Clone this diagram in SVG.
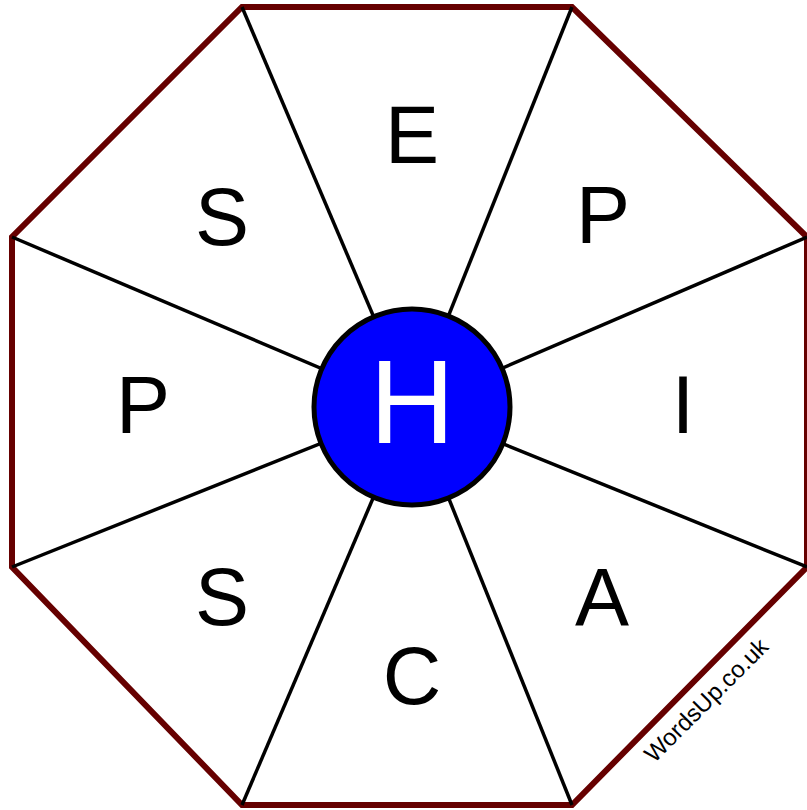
<svg xmlns="http://www.w3.org/2000/svg" width="807" height="810" viewBox="0 0 807 810">
<style>
.spoke{stroke:#000;stroke-width:3.5;fill:none}
.oct{stroke:#660000;stroke-width:6;fill:#fff;stroke-linejoin:miter}
.l{font-family:"Liberation Sans",Arial,sans-serif;font-size:81px;fill:#000;text-anchor:middle}
.c{font-family:"Liberation Sans",Arial,sans-serif;font-size:118px;fill:#fff;text-anchor:middle}
.w{font-family:"Liberation Sans",Arial,sans-serif;font-size:24px;fill:#000;text-anchor:middle}
</style>
<rect width="807" height="810" fill="#fff"/>
<polygon id="octagon" class="oct" points="242,7 572,7 807,237 807,567 572,805 242,805 12,567 12,237"/>
<g id="connectors">
<line class="spoke" x1="412" y1="407" x2="242" y2="7"/>
<line class="spoke" x1="412" y1="407" x2="572" y2="7"/>
<line class="spoke" x1="412" y1="407" x2="807" y2="237"/>
<line class="spoke" x1="412" y1="407" x2="807" y2="567"/>
<line class="spoke" x1="412" y1="407" x2="572" y2="805"/>
<line class="spoke" x1="412" y1="407" x2="242" y2="805"/>
<line class="spoke" x1="412" y1="407" x2="12" y2="567"/>
<line class="spoke" x1="412" y1="407" x2="12" y2="237"/>
</g>
<g id="n-E"><text class="l" x="412" y="163">E</text></g>
<g id="n-P1"><text class="l" x="603" y="243">P</text></g>
<g id="n-I"><text class="l" x="683" y="433">I</text></g>
<g id="n-A"><text class="l" x="602" y="625">A</text></g>
<g id="n-C"><text class="l" x="412" y="704">C</text></g>
<g id="n-S2"><text class="l" x="222" y="625">S</text></g>
<g id="n-P2"><text class="l" x="143" y="433">P</text></g>
<g id="n-S1"><text class="l" x="222" y="245">S</text></g>
<g id="n-H">
<circle cx="412" cy="407" r="98" fill="#0000ff" stroke="#000" stroke-width="5"/>
<text class="c" x="412" y="443">H</text>
</g>
<text class="w" transform="translate(712,706) rotate(-45)">WordsUp.co.uk</text>
</svg>
